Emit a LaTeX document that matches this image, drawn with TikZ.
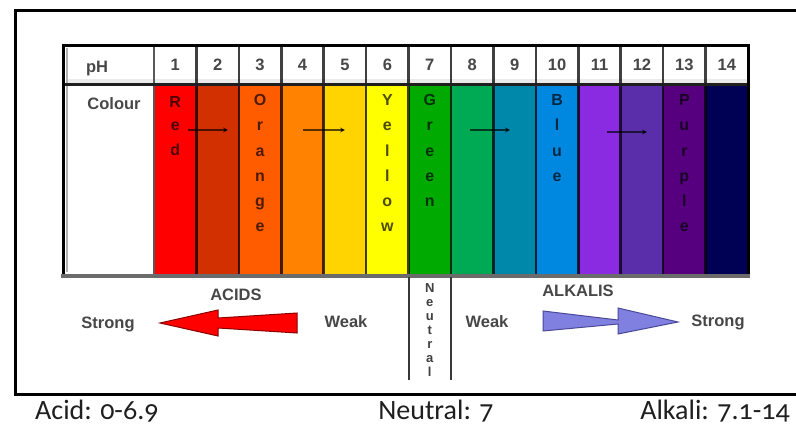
\documentclass[tikz,border=0pt]{standalone}
\usepackage{fontspec}
\setmainfont{Liberation Sans}
\newfontfamily\labfont{Carlito}[Numbers=OldStyle]
\usetikzlibrary{arrows.meta}
\definecolor{c1}{HTML}{FF0000}
\definecolor{c2}{HTML}{D23000}
\definecolor{c3}{HTML}{FF5C00}
\definecolor{c4}{HTML}{FF8200}
\definecolor{c5}{HTML}{FFD400}
\definecolor{c6}{HTML}{FFFF00}
\definecolor{c7}{HTML}{00AA00}
\definecolor{c8}{HTML}{00AA55}
\definecolor{c9}{HTML}{0088AA}
\definecolor{c10}{HTML}{0088E0}
\definecolor{c11}{HTML}{8A2BE2}
\definecolor{c12}{HTML}{5A2EAA}
\definecolor{c13}{HTML}{560080}
\definecolor{c14}{HTML}{000055}
\definecolor{redline}{HTML}{8B0000}
\definecolor{bluefill}{HTML}{8080E0}
\definecolor{blueline}{HTML}{4A4A9A}
\begin{document}
\begin{tikzpicture}[x=1pt,y=-1pt,
  lbl/.style={font=\fontsize{16.5}{17}\selectfont\bfseries, text=black!72, inner sep=0pt},
  letter/.style={font=\fontsize{16}{16}\selectfont\bfseries, text=black, text opacity=0.7, inner sep=0pt, anchor=base},
  nletter/.style={font=\fontsize{13}{13}\selectfont\bfseries, text=black!75, inner sep=0pt, anchor=base},
  biglbl/.style={font=\labfont\fontsize{28}{30}\selectfont, text=black!88, inner sep=0pt},
  sepline/.style={line width=2.6pt, draw=black, draw opacity=0.75},
  cellarrow/.style={line width=2pt, draw=black, draw opacity=0.65, -{Stealth[length=5pt,width=5pt]}},
  frameline/.style={line width=3pt, draw=black}]
\useasboundingbox (0,0) rectangle (796,428);
\fill[white] (0,0) rectangle (796,428);
% outer frame
\draw[frameline] (796,11) -- (15,11) -- (15,394) -- (796,394);
% colour cells and header numbers
\def\cw{42.43}
\foreach \i/\c in {1/c1,2/c2,3/c3,4/c4,5/c5,6/c6,7/c7,8/c8,9/c9,10/c10,11/c11,12/c12,13/c13,14/c14} {
  \fill[\c] ({154+(\i-1)*\cw},85) rectangle ({154+\i*\cw},274);
  \node[lbl] (num\i) at ({154+(\i-0.5)*\cw},65) {\i};
}
% light gray inner strips
\fill[black!8] (66,79) rectangle (748,84);
\draw[line width=2pt, black!30] (67,48) -- (67,272);
% column separators
\foreach \k in {1,...,13} {
  \draw[sepline] ({154+\k*\cw},46) -- ({154+\k*\cw},274);
}
\draw[line width=2.6pt, black!65] (154,46) -- (154,274);
% borders
\draw[line width=3pt, black!88] (63,85) -- (748,85);
\draw[line width=3pt, black] (61.5,46) -- (749.5,46);
\draw[line width=3pt, black] (63,46) -- (63,276);
\draw[line width=3pt, black] (748,46) -- (748,276);
\draw[line width=4pt, black!58] (61,275.5) -- (750,275.5);
% header texts
\node[lbl] (ph) at (97,69) {pH};
\node[lbl] (colour) at (114,104) {Colour};
% stacked colour words
\foreach \ch [count=\k] in {R,e,d}
  \node[letter] (red\k) at ({154+0.5*\cw},{107+(\k-1)*24}) {\ch};
\foreach \ch [count=\k] in {O,r,a,n,g,e}
  \node[letter] (orange\k) at ({154+2.5*\cw},{106+(\k-1)*25}) {\ch};
\foreach \ch [count=\k] in {Y,e,l,l,o,w}
  \node[letter] (yellow\k) at ({154+5.5*\cw},{106+(\k-1)*25}) {\ch};
\foreach \ch [count=\k] in {G,r,e,e,n}
  \node[letter] (green\k) at ({154+6.5*\cw},{106+(\k-1)*25}) {\ch};
\foreach \ch [count=\k] in {B,l,u,e}
  \node[letter] (blue\k) at ({154+9.5*\cw},{106+(\k-1)*25}) {\ch};
\foreach \ch [count=\k] in {P,u,r,p,l,e}
  \node[letter] (purple\k) at ({154+12.5*\cw},{106+(\k-1)*25}) {\ch};
% small arrows in cells
\coordinate (a1s) at (188,130); \coordinate (a1e) at (228,130);
\coordinate (a2s) at (303,130); \coordinate (a2e) at (345,130);
\coordinate (a3s) at (470,130); \coordinate (a3e) at (510,130);
\coordinate (a4s) at (607,132); \coordinate (a4e) at (647,132);
\draw[cellarrow] (a1s) -- (a1e);
\draw[cellarrow] (a2s) -- (a2e);
\draw[cellarrow] (a3s) -- (a3e);
\draw[cellarrow] (a4s) -- (a4e);
% neutral box
\draw[line width=2pt, black!78] (408.6,277) -- (408.6,380);
\draw[line width=2pt, black!78] (451,277) -- (451,380);
\foreach \ch [count=\k] in {N,e,u,t,r,a,l}
  \node[nletter] (neu\k) at (429.8,{292+(\k-1)*14}) {\ch};
% acids
\node[lbl] (acids) at (236,295) {ACIDS};
\node[lbl, anchor=base] (strongL) at (108,328) {Strong};
\node[lbl, anchor=base] (weakL) at (346,327) {Weak};
\draw[fill=c1, draw=redline, line width=1pt, line join=miter]
  (160,323) -- (218,310) -- (218,318) -- (297,313) -- (297,333) -- (218,328) -- (218,336) -- cycle;
% alkalis
\node[lbl] (alkalis) at (578,291) {ALKALIS};
\node[lbl, anchor=base] (weakR) at (487,327) {Weak};
\node[lbl, anchor=base] (strongR) at (718,326) {Strong};
\draw[fill=bluefill, draw=blueline, line width=1pt, line join=miter]
  (543,311) -- (618,320) -- (618,308) -- (678,322) -- (618,334) -- (618,324) -- (543,331) -- cycle;
% bottom labels
\node[biglbl, anchor=base west] (acidlbl) at (35,419) {Acid: 0-6.9};
\node[biglbl, anchor=base] (neutlbl) at (436,419) {Neutral: 7};
\node[biglbl, anchor=base east] (alklbl) at (790,419) {Alkali: 7.1-14};
\end{tikzpicture}
\end{document}
